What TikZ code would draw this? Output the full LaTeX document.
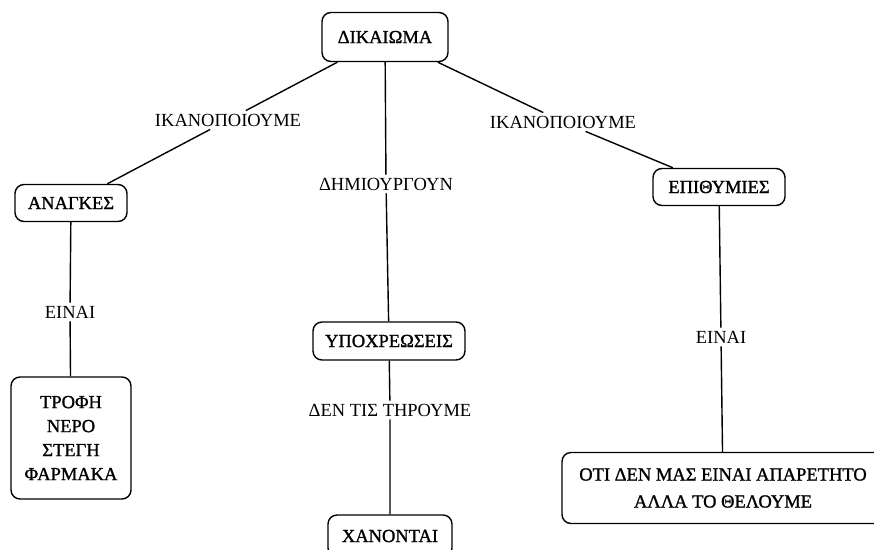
\documentclass[tikz,border=0pt]{standalone}
\usepackage{fontspec}
\setmainfont{Liberation Serif}
\newfontfamily\boxfont[FakeBold=1.2]{Liberation Serif}
\begin{document}
\begin{tikzpicture}[x=1pt,y=-1pt,
  box/.style={draw, rounded corners=9pt, line width=1.4pt, font=\boxfont\fontsize{18.5}{24}\selectfont, align=center, inner sep=0pt},
  lbl/.style={font=\fontsize{18.5}{22}\selectfont, inner sep=3pt},
  conn/.style={line width=1.4pt}]
\useasboundingbox (0,0) rectangle (874,549);
\clip (0,0) rectangle (874,549);
\node[box, minimum width=126pt, minimum height=49pt] (dik) at (385,37) {ΔΙΚΑΙΩΜΑ};
\node[box, minimum width=112pt, minimum height=37pt] (ana) at (71,203) {ΑΝΑΓΚΕΣ};
\node[box, minimum width=132pt, minimum height=37pt] (epi) at (719,187) {ΕΠΙΘΥΜΙΕΣ};
\node[box, minimum width=152pt, minimum height=38pt] (ypo) at (389,341) {ΥΠΟΧΡΕΩΣΕΙΣ};
\node[box, minimum width=124pt, minimum height=42pt] (xan) at (390,536) {ΧΑΝΟΝΤΑΙ};
\node[box, minimum width=120pt, minimum height=122pt] (tro) at (71,438) {ΤΡΟΦΗ\\ΝΕΡΟ\\ΣΤΕΓΗ\\ΦΑΡΜΑΚΑ};
\node[box, minimum width=322pt, minimum height=71pt, font=\boxfont\fontsize{18.5}{27}\selectfont] (oti) at (723,488) {ΟΤΙ ΔΕΝ ΜΑΣ ΕΙΝΑΙ ΑΠΑΡΕΤΗΤΟ\\ΑΛΛΑ ΤΟ ΘΕΛΟΥΜΕ};
\node[lbl] (l1) at (228,120) {ΙΚΑΝΟΠΟΙΟΥΜΕ};
\node[lbl] (l2) at (563,122) {ΙΚΑΝΟΠΟΙΟΥΜΕ};
\node[lbl] (l3) at (386,184) {ΔΗΜΙΟΥΡΓΟΥΝ};
\node[lbl] (l4) at (70,312) {ΕΙΝΑΙ};
\node[lbl] (l5) at (721,337) {ΕΙΝΑΙ};
\node[lbl] (l6) at (390,410) {ΔΕΝ ΤΙΣ ΤΗΡΟΥΜΕ};
\draw[conn] (dik) -- (l1) -- (ana);
\draw[conn] (dik) -- (l2) -- (epi);
\draw[conn] (dik) -- (l3) -- (ypo);
\draw[conn] (ana) -- (l4) -- (tro);
\draw[conn] (epi) -- (l5) -- (oti);
\draw[conn] (ypo) -- (l6) -- (xan);
\end{tikzpicture}
\end{document}
